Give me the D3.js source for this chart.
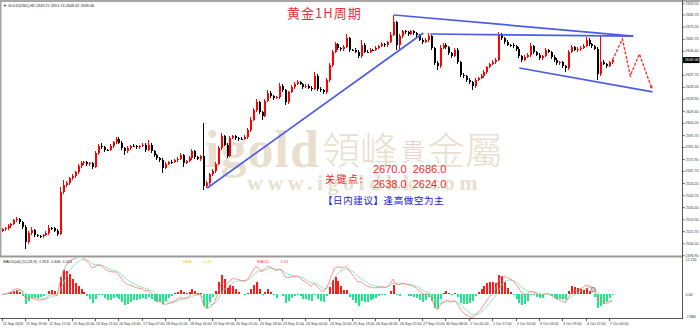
<!DOCTYPE html>
<html>
<head>
<meta charset="utf-8">
<script src="https://cdn.jsdelivr.net/npm/d3@7"></script>
<style>
  html, body { margin: 0; padding: 0; background: #fff; }
  svg { display: block; font-family: "Liberation Sans", Arial, sans-serif; }
</style>
</head>
<body>
<svg id="chart" width="700" height="328"></svg>
<script>
const firstOpen = 2516.0;
const closes = [
  2517.0, 2518.0, 2519.5, 2521.0, 2524.0, 2525.0, 2522.5, 2519.0, 2507.0, 2514.0,
  2516.5, 2512.5, 2512.0, 2511.5, 2512.5, 2514.0, 2518.0, 2518.0, 2516.0, 2513.5,
  2546.0, 2551.5, 2553.0, 2557.0, 2558.5, 2561.5, 2566.5, 2568.5, 2569.5, 2568.0,
  2568.5, 2566.0, 2576.5, 2582.0, 2581.0, 2579.0, 2579.0, 2582.0, 2585.0, 2587.5,
  2584.5, 2580.5, 2578.0, 2580.5, 2582.0, 2582.0, 2581.0, 2582.0, 2583.0, 2579.0,
  2583.0, 2578.0, 2575.0, 2572.5, 2571.0, 2565.0, 2568.0, 2569.5, 2569.5, 2571.0,
  2572.0, 2575.0, 2569.0, 2570.5, 2572.5, 2578.0, 2573.5, 2572.0, 2574.0, 2551.0,
  2553.0, 2560.0, 2562.5, 2568.0, 2580.5, 2589.5, 2583.0, 2574.5, 2588.5, 2589.5,
  2588.0, 2587.5, 2587.5, 2589.0, 2594.5, 2602.5, 2610.0, 2616.0, 2608.5, 2605.5,
  2617.5, 2623.5, 2621.0, 2619.5, 2620.0, 2629.0, 2625.5, 2616.0, 2624.0, 2628.0,
  2630.5, 2632.0, 2630.5, 2628.0, 2629.0, 2627.5, 2626.5, 2636.5, 2626.5, 2625.5,
  2624.0, 2633.5, 2645.0, 2655.5, 2661.5, 2658.5, 2657.5, 2659.5, 2666.0, 2657.0,
  2657.0, 2655.5, 2652.0, 2661.0, 2655.5, 2655.5, 2657.0, 2657.0, 2658.5, 2660.0,
  2661.5, 2660.5, 2663.0, 2669.0, 2678.5, 2660.8, 2667.8, 2671.5, 2670.8, 2669.3,
  2671.5, 2670.0, 2668.5, 2664.7, 2663.0, 2664.7, 2667.8, 2658.5, 2646.8, 2644.4,
  2658.5, 2660.8, 2659.2, 2654.6, 2652.2, 2656.9, 2647.5, 2637.4, 2636.6, 2633.5,
  2632.0, 2628.8, 2633.5, 2635.0, 2636.6, 2639.7, 2643.6, 2646.0, 2647.5, 2649.1,
  2668.6, 2666.2, 2663.1, 2660.8, 2660.8, 2660.0, 2657.7, 2652.2, 2649.1, 2651.5,
  2653.0, 2660.0, 2655.3, 2653.0, 2650.7, 2652.2, 2656.9, 2655.3, 2651.5, 2649.1,
  2646.7, 2647.5, 2644.4, 2642.8, 2655.3, 2659.2, 2656.9, 2657.7, 2658.5, 2660.0,
  2664.7, 2661.5, 2660.0, 2657.7, 2638.2, 2647.5, 2646.0, 2644.4, 2647.5, 2649.06
];
const upWicks = [
  1.2, 1.0, 1.4, 1.1, 1.5, 2.0, 1.2, 0.9, 1.3, 1.6,
  2.3, 1.0, 1.2, 0.8, 1.1, 1.4, 2.4, 1.2, 1.0, 1.3,
  4.0, 4.0, 1.5, 1.2, 1.8, 1.0, 1.4, 1.6, 1.2, 1.0,
  1.3, 1.1, 1.9, 1.5, 2.4, 1.2, 1.0, 1.4, 1.3, 1.5,
  1.6, 1.1, 1.0, 1.3, 1.2, 1.5, 1.0, 1.2, 1.4, 1.6,
  3.7, 1.2, 1.0, 1.1, 1.3, 1.5, 1.2, 1.0, 1.4, 1.1,
  1.3, 1.6, 1.2, 1.0, 1.4, 1.6, 1.2, 1.1, 1.3, 26.0,
  1.5, 1.2, 1.4, 1.6, 1.8, 2.5, 1.3, 1.2, 1.5, 1.1,
  1.2, 1.0, 1.3, 1.4, 1.6, 1.8, 1.5, 2.6, 1.3, 1.2,
  1.5, 2.2, 1.2, 1.0, 1.3, 2.0, 1.4, 1.2, 1.3, 1.5,
  1.2, 1.5, 1.1, 1.0, 1.3, 1.2, 1.1, 3.2, 1.4, 1.2,
  1.0, 1.6, 1.8, 1.5, 1.5, 1.2, 1.1, 1.3, 3.5, 1.2,
  1.0, 1.2, 1.1, 3.7, 1.3, 1.1, 1.2, 1.0, 1.3, 1.2,
  1.4, 1.1, 1.3, 1.6, 5.7, 1.0, 1.5, 1.3, 1.2, 1.0,
  1.4, 1.2, 1.1, 1.0, 1.3, 1.2, 2.4, 1.2, 1.0, 1.3,
  2.2, 1.4, 1.2, 1.0, 1.1, 1.5, 1.2, 1.0, 1.3, 1.1,
  1.2, 1.0, 1.4, 1.2, 1.3, 1.5, 1.2, 1.1, 1.4, 1.6,
  2.3, 1.2, 1.0, 1.3, 1.1, 1.2, 1.0, 1.3, 1.1, 1.4,
  1.2, 2.4, 1.1, 1.0, 1.3, 1.2, 1.5, 1.1, 1.0, 1.2,
  1.3, 1.1, 1.0, 1.2, 1.6, 1.4, 1.1, 1.2, 1.3, 1.5,
  2.3, 1.2, 1.1, 1.0, 1.4, 21.0, 1.3, 1.1, 1.2, 1.0
];
const downWicks = [
  1.0, 1.3, 1.1, 1.2, 0.9, 1.4, 1.2, 1.5, 5.5, 1.2,
  1.1, 1.4, 1.0, 1.3, 1.2, 1.0, 1.3, 1.1, 1.2, 1.5,
  1.0, 1.3, 1.2, 1.0, 1.4, 1.1, 1.2, 1.3, 1.0, 1.4,
  1.2, 1.5, 1.1, 1.3, 1.0, 1.4, 1.2, 1.1, 1.3, 1.0,
  1.2, 1.4, 3.0, 1.1, 1.3, 1.0, 1.2, 1.4, 1.1, 1.5,
  1.2, 1.3, 1.4, 1.1, 1.5, 4.0, 1.2, 1.1, 1.3, 1.0,
  1.2, 1.1, 3.4, 1.3, 1.0, 1.2, 1.4, 1.1, 1.3, 3.0,
  1.5, 1.2, 1.0, 1.3, 1.1, 1.4, 1.2, 1.8, 1.3, 1.0,
  1.2, 1.4, 1.1, 1.0, 1.3, 1.2, 1.1, 1.4, 1.5, 3.2,
  1.2, 1.0, 1.3, 1.4, 1.1, 1.2, 1.5, 2.0, 1.2, 1.0,
  1.3, 1.1, 1.2, 1.4, 1.0, 1.3, 1.2, 1.1, 1.5, 1.3,
  1.5, 1.1, 1.2, 1.3, 1.0, 1.4, 1.2, 1.1, 1.3, 1.5,
  1.2, 1.1, 1.4, 1.0, 1.3, 1.2, 1.1, 1.0, 1.2, 1.1,
  1.0, 1.2, 1.1, 1.0, 1.2, 3.8, 3.0, 1.2, 1.1, 1.3,
  1.0, 1.2, 1.4, 1.1, 1.3, 1.0, 1.2, 1.5, 1.6, 3.1,
  1.2, 1.1, 1.3, 1.4, 1.2, 1.1, 1.5, 1.6, 1.3, 1.2,
  1.4, 3.1, 1.2, 1.1, 1.0, 1.3, 1.2, 1.1, 1.0, 1.2,
  1.1, 1.3, 1.2, 1.0, 1.4, 1.2, 1.3, 1.5, 1.2, 1.1,
  1.0, 1.2, 1.3, 1.1, 1.4, 1.2, 1.0, 1.1, 1.3, 1.2,
  1.4, 1.1, 1.3, 3.1, 1.2, 1.0, 1.1, 1.3, 1.2, 1.0,
  1.1, 1.3, 1.2, 1.0, 4.7, 1.2, 1.1, 1.3, 1.0, 1.2
];

// one time label every 8 bars (16 hours)
const timeLabels = [
  "11 Sep 2024", "11 Sep 19:00", "12 Sep 12:00", "13 Sep 05:00", "13 Sep 21:00",
  "16 Sep 14:00", "17 Sep 07:00", "18 Sep 01:00", "18 Sep 16:00", "19 Sep 09:00",
  "20 Sep 02:00", "20 Sep 18:00", "23 Sep 11:00", "24 Sep 04:00", "24 Sep 20:00",
  "25 Sep 13:00", "26 Sep 06:00", "26 Sep 22:00", "27 Sep 15:00", "30 Sep 08:00",
  "1 Oct 01:00", "1 Oct 17:00", "2 Oct 10:00", "3 Oct 03:00", "3 Oct 19:00",
  "4 Oct 12:00", "7 Oct 06:00"
];
const priceTicks = [
  2693.50, 2684.70, 2675.20, 2665.70, 2656.40, 2637.70, 2628.20, 2618.90, 2609.40,
  2600.20, 2590.70, 2581.40, 2571.90, 2562.70, 2553.20, 2543.70, 2534.40, 2524.90,
  2515.70, 2506.20, 2496.90
];
const lastPrice = 2649.06;

// hand drawn objects: [bar1, price1, bar2, price2]
const trendLines = [
  [70.4, 2549.3, 144.4, 2670.2],
  [134.4, 2684.2, 216.3, 2667.8],
  [146.8, 2669.4, 216.3, 2667.8],
  [177.3, 2642.9, 222.9, 2624.2]
];
const forecastBars = [209.2, 212.6, 215.3, 218.4, 222.5];
const forecastPrices = [2649.1, 2665.5, 2636.7, 2653.8, 2628.0];

const svg = d3.select('#chart');
const W = 700, H = 328;
const plotRight = 682.5;

const x = d3.scaleLinear().domain([0, closes.length - 1]).range([1.7, 611.9]);
const y = d3.scaleLinear().domain([2496.9, 2693.8]).range([255.2, 2.7]);
const my = d3.scaleLinear().domain([-7.884, 12.135]).range([318.5, 257.5]);

// MACD(12,26,9) of the hourly chart; each bar here covers two hours
function ema(values, hourPeriod) {
  const a = 1 - Math.pow(1 - 2 / (hourPeriod + 1), 2);
  let prev = values[0];
  return values.map((v) => (prev = a * v + (1 - a) * prev));
}
const fast = ema(closes, 12);
const slow = ema(closes, 26);
const dif = fast.map((f, i) => f - slow[i]);
const dea = ema(dif, 9);
const hist = dif.map((d, i) => 2 * (d - dea[i]));

const candles = closes.map((c, i) => {
  const o = i ? closes[i - 1] : firstOpen;
  return { i, o, c, h: Math.max(o, c) + upWicks[i], l: Math.min(o, c) - downWicks[i] };
});

const defs = svg.append('defs');
defs.append('clipPath').attr('id', 'mainClip')
  .append('rect').attr('x', 1.5).attr('y', 2).attr('width', plotRight - 1.5).attr('height', 253);
defs.append('clipPath').attr('id', 'macdClip')
  .append('rect').attr('x', 0).attr('y', 258).attr('width', plotRight).attr('height', 60);

// frame
svg.append('rect').attr('width', W).attr('height', H).attr('fill', '#fff');
svg.append('rect').attr('x', 0).attr('y', 0).attr('width', W).attr('height', 2).attr('fill', '#a7a7a7');
svg.append('rect').attr('x', 0).attr('y', 0).attr('width', 1.5).attr('height', 256).attr('fill', '#a7a7a7');

// watermark
const wm = svg.append('g').attr('fill', '#e9dfcf');
wm.append('text').attr('x', 205).attr('y', 167)
  .attr('font-family', '"Liberation Serif", serif').attr('font-weight', 'bold')
  .attr('font-size', 52).attr('letter-spacing', 1).text('igold');
wm.append('text').attr('x', 322).attr('y', 164)
  .attr('font-family', '"Noto Sans CJK TC", sans-serif').attr('font-weight', 300)
  .attr('font-size', 38).text('領峰');
wm.append('text').attr('x', 401).attr('y', 160).attr('fill', '#e8d2c6')
  .attr('font-family', '"Noto Sans CJK TC", sans-serif').attr('font-weight', 300)
  .attr('font-size', 24).text('貴');
wm.append('text').attr('x', 427).attr('y', 164)
  .attr('font-family', '"Noto Sans CJK TC", sans-serif').attr('font-weight', 300)
  .attr('font-size', 38).text('金屬');
wm.append('text').attr('x', 247).attr('y', 190)
  .attr('font-family', '"Liberation Serif", serif').attr('font-weight', 'bold')
  .attr('font-size', 22).attr('letter-spacing', 4.5).text('www.igoldhk.com');

// candles
const cg = svg.append('g').attr('clip-path', 'url(#mainClip)').attr('shape-rendering', 'crispEdges');
const candle = cg.selectAll('g').data(candles).join('g')
  .attr('fill', (d) => (d.c > d.o ? '#ff0000' : '#000000'));
candle.append('rect')
  .attr('x', (d) => Math.round(x(d.i)))
  .attr('width', 1)
  .attr('y', (d) => y(d.h))
  .attr('height', (d) => y(d.l) - y(d.h));
candle.append('rect')
  .attr('x', (d) => Math.round(x(d.i)) - 0.5)
  .attr('width', 2)
  .attr('y', (d) => y(Math.max(d.o, d.c)))
  .attr('height', (d) => Math.max(1, Math.abs(y(d.o) - y(d.c))));

// trend lines
svg.append('g').attr('clip-path', 'url(#mainClip)')
  .selectAll('line').data(trendLines).join('line')
  .attr('x1', (d) => x(d[0])).attr('y1', (d) => y(d[1]))
  .attr('x2', (d) => x(d[2])).attr('y2', (d) => y(d[3]))
  .attr('stroke', '#4a5be8').attr('stroke-width', 1.7);

// forecast path
const fc = forecastBars.map((b, k) => [b, forecastPrices[k]]);
svg.append('path')
  .attr('d', d3.line().x((d) => x(d[0])).y((d) => y(d[1]))(fc))
  .attr('fill', 'none').attr('stroke', '#ff2a2a').attr('stroke-width', 1.3)
  .attr('stroke-dasharray', '3,1.5');
svg.append('circle')
  .attr('cx', x(forecastBars[forecastBars.length - 1])).attr('cy', y(forecastPrices[forecastPrices.length - 1]))
  .attr('r', 1.3).attr('fill', '#ff2a2a');

// annotations
svg.append('text').attr('x', 287).attr('y', 18)
  .attr('font-family', '"Noto Sans CJK SC", sans-serif').attr('font-size', 13)
  .attr('letter-spacing', 1).attr('fill', '#e8323c').text('黄金1H周期');
svg.append('text').attr('x', 325).attr('y', 183)
  .attr('font-family', '"Noto Sans CJK SC", sans-serif').attr('font-size', 10)
  .attr('letter-spacing', 1.5).attr('fill', '#f02a2a').text('关键点:');
svg.append('text').attr('x', 373).attr('y', 173).style('white-space', 'pre')
  .attr('font-size', 11).attr('fill', '#f02a2a').text('2670.0  2686.0');
svg.append('text').attr('x', 373).attr('y', 188).style('white-space', 'pre')
  .attr('font-size', 11).attr('fill', '#f02a2a').text('2638.0  2624.0');
svg.append('text').attr('x', 323).attr('y', 204)
  .attr('font-family', '"Noto Sans CJK SC", sans-serif').attr('font-size', 9.5)
  .attr('letter-spacing', 0.6).attr('fill', '#1818d8').text('【日内建议】逢高做空为主');

svg.append('text').attr('x', 3).attr('y', 7).attr('font-size', 3.8).attr('fill', '#222')
  .text('▼ GOLD(USD),H1  2649.21 2651.74 2648.02 2649.06');

// price axis
const yAxis = svg.append('g').attr('transform', `translate(${plotRight},0)`)
  .call(d3.axisRight(y).tickValues(priceTicks).tickSize(2).tickPadding(1).tickFormat(d3.format('.2f')));
yAxis.select('.domain').remove();
yAxis.selectAll('text').attr('font-size', 3.6).attr('font-family', '"Liberation Sans", sans-serif').attr('fill', '#333');
yAxis.selectAll('line').attr('stroke', '#555');
svg.append('rect').attr('x', plotRight + 0.5).attr('y', y(lastPrice) - 3).attr('width', 16.5).attr('height', 6).attr('fill', '#000');
svg.append('text').attr('x', plotRight + 2.5).attr('y', y(lastPrice) + 1.3).attr('font-size', 3.8).attr('fill', '#fff')
  .text(d3.format('.2f')(lastPrice));

// panel separator
svg.append('rect').attr('x', 0).attr('y', 255.5).attr('width', plotRight).attr('height', 2).attr('fill', '#9a9a9a');

// MACD panel
const mg = svg.append('g').attr('clip-path', 'url(#macdClip)');
mg.append('g').attr('shape-rendering', 'crispEdges')
  .selectAll('rect').data(hist).join('rect')
  .attr('x', (d, i) => Math.round(x(i)) - 0.5)
  .attr('width', 2)
  .attr('y', (d) => Math.min(my(0), my(d)))
  .attr('height', (d) => Math.abs(my(d) - my(0)))
  .attr('fill', (d) => (d >= 0 ? '#ff1a1a' : '#1ee88a'));
mg.append('path').attr('d', d3.line().x((d, i) => x(i)).y((d) => my(d))(dea))
  .attr('fill', 'none').attr('stroke', '#5fe0a0').attr('stroke-width', 0.7);
mg.append('path').attr('d', d3.line().x((d, i) => x(i)).y((d) => my(d))(dif))
  .attr('fill', 'none').attr('stroke', '#ff6464').attr('stroke-width', 0.7);
mg.append('circle').attr('cx', x(202.6)).attr('cy', my(1.6)).attr('r', 2.2)
  .attr('fill', '#cfcfcf').attr('stroke', '#e05050').attr('stroke-width', 0.8);

svg.append('text').attr('x', 3).attr('y', 262.5).attr('font-size', 3.8).attr('fill', '#222')
  .text('MACD(all) (12,26,9) -1.953 -1.406 -1.014');
svg.append('text').attr('x', 183).attr('y', 263).attr('font-size', 4.2).attr('fill', '#e6c800').text('DEA');
svg.append('text').attr('x', 202).attr('y', 263).attr('font-size', 4.2).attr('fill', '#e6c800').text('-1.41');
svg.append('text').attr('x', 257).attr('y', 263).attr('font-size', 4.2).attr('fill', '#ff4444').text('MACD');
svg.append('text').attr('x', 279).attr('y', 263).attr('font-size', 4.2).attr('fill', '#ff4444').text('-1.01');

const macdLabels = [[12.135, '12.135', 3.5], [0, '0.00', 1.3], [-7.884, '-7.884', -0.8]];
svg.append('g').selectAll('text').data(macdLabels).join('text')
  .attr('x', plotRight + 3).attr('y', (d) => my(d[0]) + d[2])
  .attr('font-size', 3.6).attr('fill', '#333').text((d) => d[1]);

// axes lines
svg.append('line').attr('x1', plotRight).attr('x2', plotRight).attr('y1', 0).attr('y2', 319)
  .attr('stroke', '#555').attr('stroke-width', 1);
svg.append('line').attr('x1', 0).attr('x2', plotRight).attr('y1', 318.5).attr('y2', 318.5)
  .attr('stroke', '#555').attr('stroke-width', 1);

// time axis
const tg = svg.append('g').selectAll('g').data(timeLabels).join('g')
  .attr('transform', (d, j) => `translate(${Math.round(x(j * 8)) + 0.5},0)`);
tg.append('line').attr('y1', 318.5).attr('y2', 321).attr('stroke', '#555');
tg.append('text').attr('x', 0.5).attr('y', 324.5).attr('font-size', 3.6).attr('fill', '#333').text((d) => d);
</script>
</body>
</html>
